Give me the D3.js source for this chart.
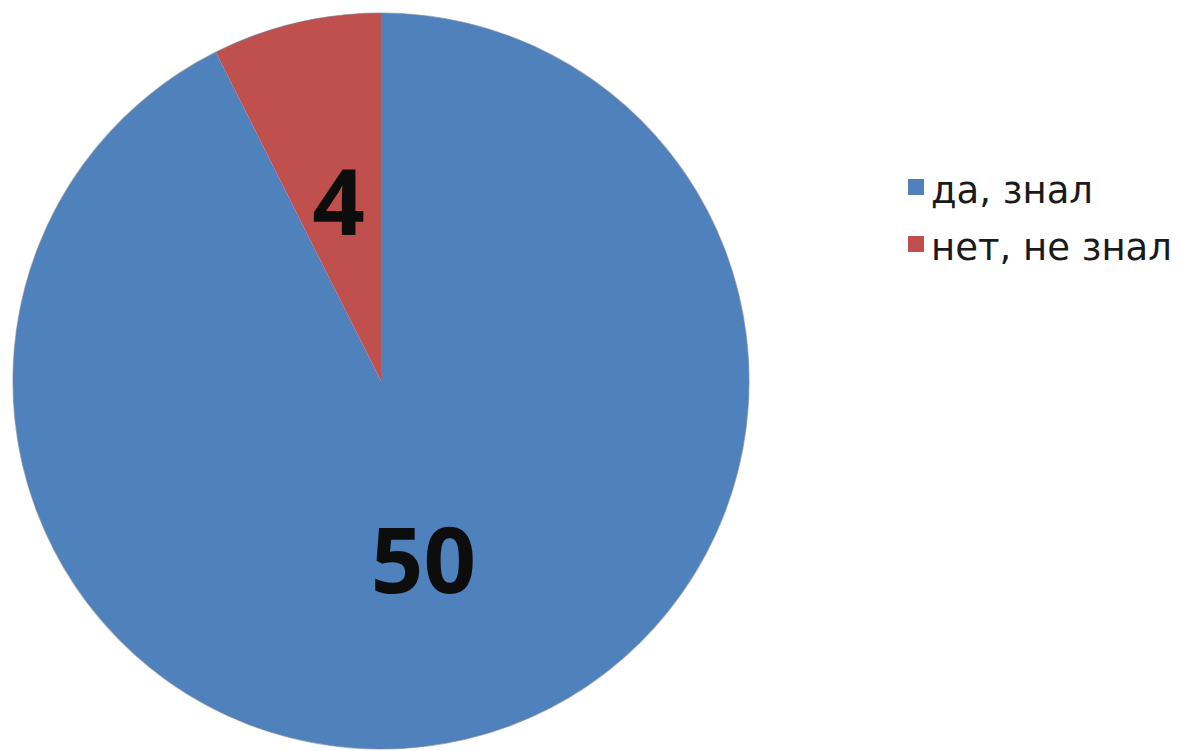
<!DOCTYPE html>
<html>
<head>
<meta charset="utf-8">
<script src="https://cdn.jsdelivr.net/npm/d3@7"></script>
<style>
  body { margin: 0; background: #fff; }
  svg { display: block; }
</style>
</head>
<body>
<svg width="1178" height="751"></svg>
<script>
// data
var categories = ["да, знал", "нет, не знал"];
var values = [50, 4];
var colors = ["#4f81bd", "#c0504d"];

var width = 1178, height = 751,
    cx = 381, cy = 381, radius = 368;

var svg = d3.select("svg");

var pie = d3.pie().sort(null).value(d => d.value);
var arc = d3.arc().innerRadius(0).outerRadius(radius);
var labelArc = d3.arc().innerRadius(0).outerRadius(radius); // centroid at r/2

var data = categories.map((c, i) => ({ name: c, value: values[i] }));
var arcs = pie(data);

var g = svg.append("g").attr("transform", "translate(" + cx + "," + cy + ")");

g.selectAll("path.slice")
  .data(arcs)
  .enter().append("path")
    .attr("class", "slice")
    .attr("d", arc)
    .attr("fill", (d, i) => colors[i]);

// soft outer rim
g.append("circle")
  .attr("r", radius)
  .attr("fill", "none")
  .attr("stroke", "#6b7f99")
  .attr("stroke-opacity", 0.6)
  .attr("stroke-width", 1.2);

// value labels
g.selectAll("text.val")
  .data(arcs)
  .enter().append("text")
    .attr("class", "val")
    .attr("x", d => labelArc.centroid(d)[0])
    .attr("y", d => labelArc.centroid(d)[1])
    .attr("dy", "0.36em")
    .attr("text-anchor", "middle")
    .style("font-family", "'Open Sans', 'Noto Sans', sans-serif")
    .style("font-weight", 700)
    .style("font-size", "92px")
    .style("fill", "#0d0d0d")
    .text(d => d.data.value);

// legend
var legend = svg.append("g").attr("transform", "translate(908,187)");
var rowStep = 57;

var item = legend.selectAll("g.item")
  .data(data)
  .enter().append("g")
    .attr("class", "item")
    .attr("transform", (d, i) => "translate(0," + i * rowStep + ")");

item.append("rect")
  .attr("x", 0).attr("y", -8)
  .attr("width", 16).attr("height", 16)
  .attr("fill", (d, i) => colors[i]);

item.append("text")
  .attr("x", 23)
  .attr("y", 16)
  .style("font-family", "'DejaVu Sans', sans-serif")
  .style("font-size", "37px")
  .style("fill", "#1a1a1a")
  .text(d => d.name);
</script>
</body>
</html>
